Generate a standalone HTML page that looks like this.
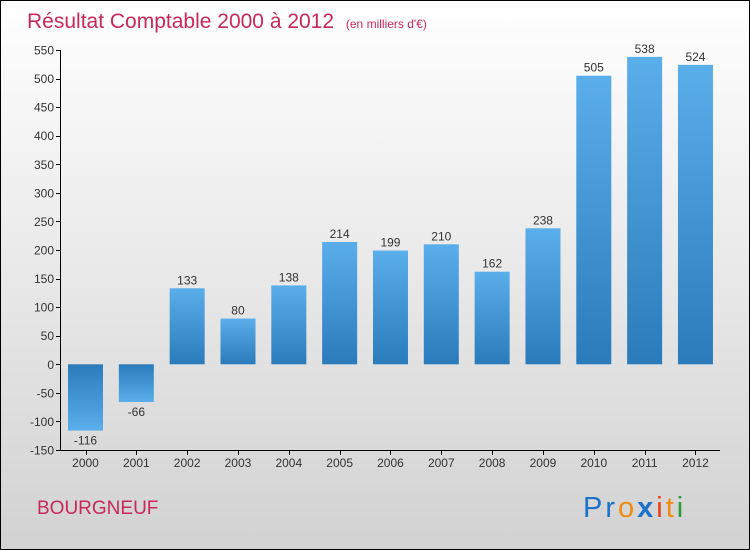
<!DOCTYPE html>
<html><head><meta charset="utf-8"><style>
body{margin:0;width:750px;height:550px;overflow:hidden}
svg{display:block}
text{font-family:"Liberation Sans","DejaVu Sans",sans-serif}
</style></head><body>
<svg width="750" height="550">
<defs>
<linearGradient id="bg" x1="0" y1="0" x2="0" y2="1"><stop offset="0" stop-color="#ffffff"/><stop offset="1" stop-color="#d2d2d2"/></linearGradient>
<linearGradient id="pos" x1="0" y1="0" x2="0" y2="1"><stop offset="0" stop-color="#5aaeea"/><stop offset="1" stop-color="#2a7bbb"/></linearGradient>
<linearGradient id="neg" x1="0" y1="0" x2="0" y2="1"><stop offset="0" stop-color="#2a7bbb"/><stop offset="1" stop-color="#5aaeea"/></linearGradient>
</defs>
<rect x="0.5" y="0.5" width="749" height="549" fill="url(#bg)" stroke="#000"/>
<text x="27" y="28" font-size="21" fill="#c8285a">Résultat Comptable 2000 à 2012 <tspan font-size="12" dx="6">(en milliers d'€)</tspan></text>
<g id="ticks"></g>
<g id="bars"></g>
<line x1="60.5" y1="50" x2="60.5" y2="450" stroke="#000"/>
<line x1="60" y1="450.5" x2="720" y2="450.5" stroke="#000"/>
<text x="37" y="514" font-size="19" fill="#c8285a">BOURGNEUF</text>
<text x="583" y="517" font-size="29" letter-spacing="3" font-family="DejaVu Sans"><tspan fill="#1a73c8">Pr</tspan><tspan fill="#f08a10">o</tspan><tspan fill="#1a73c8" font-weight="bold">x</tspan><tspan fill="#e8401a">i</tspan><tspan fill="#f08a10">t</tspan><tspan fill="#2a9a3a">i</tspan></text>
</svg>
<script>
const years=["2000","2001","2002","2003","2004","2005","2006","2007","2008","2009","2010","2011","2012"];
const values=[-116,-66,133,80,138,214,199,210,162,238,505,538,524];
const yTicks=[-150,-100,-50,0,50,100,150,200,250,300,350,400,450,500,550];
const NS="http://www.w3.org/2000/svg";
const y=v=>450-(v+150)*400/700;
const x=i=>85.5+i*50.83;
function mk(t,a,p){const e=document.createElementNS(NS,t);for(const k in a)e.setAttribute(k,a[k]);p.appendChild(e);return e;}
const tg=document.getElementById('ticks'),bg=document.getElementById('bars');
yTicks.forEach(v=>{
 const l=mk('line',{x1:56,x2:61,y1:Math.round(y(v))+0.5,y2:Math.round(y(v))+0.5,stroke:'#000'},tg);
 
 
 const t=mk('text',{x:54,y:y(v)+4.5,'text-anchor':'end','font-size':12,fill:'#333'},tg);
 t.textContent=v;
 
 
});
years.forEach((yr,i)=>{
 const v=values[i],y0=y(0),y1=y(v);
 const r=mk('rect',{x:x(i)-17.5,y:Math.min(y0,y1),width:35,height:Math.abs(y1-y0),fill:v>=0?'url(#pos)':'url(#neg)'},bg);
 
 
 const lt=mk('text',{x:x(i),y:v>=0?y1-4:y1+14,'text-anchor':'middle','font-size':12,fill:'#333'},bg);
 lt.textContent=v;
 
 
 const tk=mk('line',{x1:Math.round(x(i))+0.5,x2:Math.round(x(i))+0.5,y1:450,y2:455,stroke:'#000'},bg);
 
 
 const xt=mk('text',{x:x(i),y:467,'text-anchor':'middle','font-size':12,fill:'#333'},bg);
 xt.textContent=yr;
 
 
});
</script>
</body></html>
